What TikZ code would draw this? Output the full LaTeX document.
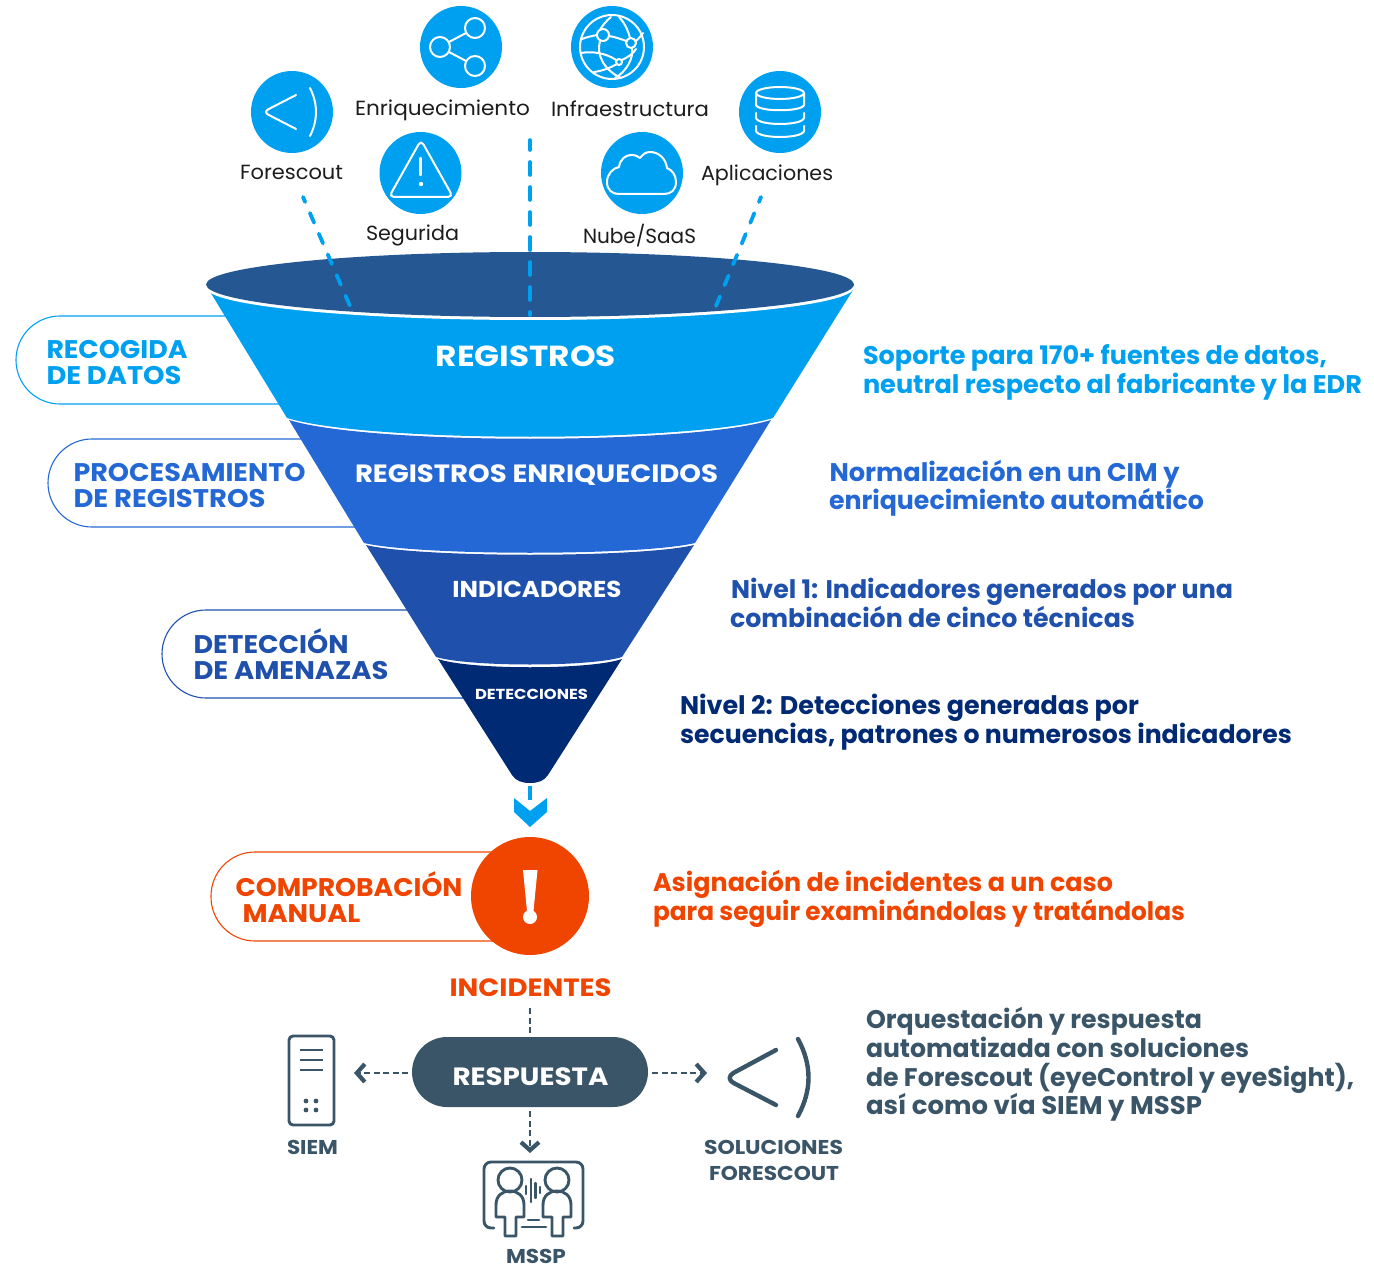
\documentclass[tikz,border=0pt]{standalone}
\usepackage{graphicx}
\usepackage{fontspec}
\setmainfont{Poppins}
\usetikzlibrary{arrows.meta}
\definecolor{cA}{HTML}{00A0F0}
\definecolor{cB}{HTML}{2468D5}
\definecolor{cC}{HTML}{1E50AC}
\definecolor{cD}{HTML}{012A74}
\definecolor{cE}{HTML}{F04500}
\definecolor{cG}{HTML}{3B5568}
\definecolor{cT}{HTML}{255892}
\definecolor{cL}{HTML}{1C1C1C}
\newcommand\fitw[2]{\resizebox{#1pt}{\height}{#2}}
\tikzset{
  x=1pt,y=-1pt,
  txt/.style={anchor=base west,inner sep=0pt,outer sep=0pt},
  cen/.style={anchor=base,inner sep=0pt,outer sep=0pt},
  big/.style={font=\fontsize{25.5}{30}\selectfont\bfseries},
  lab/.style={font=\fontsize{20.5}{24}\selectfont,text=cL},
  sml/.style={font=\fontsize{20}{24}\selectfont\bfseries,text=cG},
  pill/.style={line width=1.1pt,rounded corners=44pt},
  iconc/.style={circle,fill=cA,minimum size=82pt,inner sep=0pt},
  ico/.style={draw=white,line width=2pt,line cap=round,line join=round},
  dashA/.style={draw=cA,line width=3.8pt,line cap=round,dash pattern=on 10.5pt off 12pt,dash phase=5pt},
  dashB/.style={draw=cA,line width=3.6pt,line cap=round,dash pattern=on 13pt off 12pt,dash phase=3pt},
  respline/.style={draw=cG,line width=2pt,dash pattern=on 6pt off 3.5pt},
  resparrow/.style={respline,-{Straight Barb[length=8pt,width=18pt,line width=4.2pt]}},
  gic/.style={draw=cG,line width=2.9pt,line cap=round,line join=round},
}
\begin{document}
\begin{tikzpicture}
\useasboundingbox (0,0) rectangle (1374,1265);
% pills
\draw[pill,draw=cA] (240,316) -- (16,316) -- (16,404) -- (290,404);
\draw[pill,draw=cB] (310,439) -- (48,439) -- (48,527) -- (365,527);
\draw[pill,draw=cC] (415,610) -- (162,610) -- (162,698) -- (472,698);
\draw[pill,draw=cE] (500,852) -- (211,852) -- (211,941) -- (500,941);
% funnel
\fill[cA] (206,284) -- (209,290) -- (287,418) .. controls (370,443) and (690,443) .. (773,418) -- (853,290) -- (854,284) -- cycle;
\fill[white] (530,287.5) ellipse [x radius=324, y radius=32.5];
\fill[cT] (530,284.5) ellipse [x radius=324, y radius=32.5];
\fill[cB] (289,420) .. controls (370,445) and (690,445) .. (771,420) -- (695,543) .. controls (640,556) and (420,556) .. (364,543) -- cycle;
\fill[cC] (366,545) .. controls (420,558) and (640,558) .. (694,545) -- (622,657) .. controls (590,667) and (470,667) .. (436,657) -- cycle;
\fill[cD] (438,659) .. controls (470,670) and (590,670) .. (622,659) -- (548,775) .. controls (544,781) and (538,783) .. (530,783) .. controls (522,783) and (516,781) .. (512,775) -- cycle;
% icons
\node[iconc] (iFor) at (292,112) {};
\node[iconc] (iEnr) at (461,47) {};
\node[iconc] (iInf) at (612,47) {};
\node[iconc] (iSeg) at (420.5,173) {};
\node[iconc] (iNub) at (642,173) {};
\node[iconc] (iApl) at (780,112) {};
% forescout small
\draw[ico,rounded corners=6pt] (296,95) -- (263,112) -- (296,129);
\draw[ico] (310,88) .. controls (318,104) and (318,120) .. (310,136);
% share
\draw[ico] (475,28) circle [radius=10];
\draw[ico] (440,47) circle [radius=10];
\draw[ico] (475,66) circle [radius=10];
\draw[ico] (449,42) -- (466,33);
\draw[ico] (449,52) -- (466,61);
% globe
\draw[ico] (612,47) circle [radius=32];
\draw[ico] (603,35) circle [radius=6];
\draw[ico] (631,43) circle [radius=5];
\draw[ico] (619,62) circle [radius=3];
\draw[ico] (611,17) .. controls (606,21) and (602,26) .. (600,30);
\draw[ico] (600,41) .. controls (596,55) and (604,70) .. (621,78);
\draw[ico] (619,17) .. controls (624,22) and (628,30) .. (630,38);
\draw[ico] (632,48) .. controls (634,58) and (626,72) .. (615,78);
\draw[ico] (582,39) .. controls (587,37) and (592,36) .. (597,35);
\draw[ico] (609,36) .. controls (615,37) and (621,39) .. (626,41);
\draw[ico] (636,41) .. controls (639,38) and (641,36) .. (643,33);
\draw[ico] (581,53) .. controls (592,51) and (606,53) .. (616,60);
\draw[ico] (622,60) .. controls (628,57) and (633,54) .. (636,49);
\draw[ico] (594,72) .. controls (602,71) and (610,68) .. (617,64);
% warning
\draw[ico,rounded corners=5pt] (421,140) -- (389,197) -- (453,197) -- cycle;
\draw[ico,line width=2.4pt] (420.5,158) -- (420.5,175);
\fill[white] (421,184) circle [radius=2.2];
% cloud
\draw[ico] (619,194) .. controls (612,194) and (607,190) .. (607,182) .. controls (607,174) and (613,168) .. (619,167) .. controls (620,159) and (626,155) .. (631,155) .. controls (635,155) and (638,156) .. (640,158) .. controls (643,154) and (646,152) .. (650,152) .. controls (659,152) and (666,159) .. (667,168) .. controls (672,170) and (676,175) .. (676,182) .. controls (676,190) and (671,194) .. (664,194) -- cycle;
% database
\draw[ico] (780,93) ellipse [x radius=24, y radius=6];
\draw[ico] (756,93) -- (756,105) .. controls (758,112) and (802,112) .. (804,105) -- (804,93);
\draw[ico] (756,113) -- (756,118) .. controls (758,126) and (802,126) .. (804,118) -- (804,113);
\draw[ico] (756,126) -- (756,131) .. controls (758,139) and (802,139) .. (804,131) -- (804,126);
% icon labels
\node[txt,lab] (tFor) at (240,180) {\fitw{103}{Forescout}};
\node[txt,lab] (tEnr) at (355,116) {\fitw{175}{Enriquecimiento}};
\node[txt,lab] (tInf) at (551,117) {\fitw{158}{Infraestructura}};
\node[txt,lab] (tSeg) at (366,241) {\fitw{93}{Segurida}};
\node[txt,lab] (tNub) at (583,244) {\fitw{113}{Nube/SaaS}};
\node[txt,lab] (tApl) at (701,181) {\fitw{132}{Aplicaciones}};
% feed connectors
\coordinate (fL1) at (303,197); \coordinate (fL2) at (350,306);
\coordinate (fM1) at (530,140); \coordinate (fM2) at (530,315);
\coordinate (fR1) at (761,197); \coordinate (fR2) at (716,306);
\draw[dashA] (fL1) -- (fL2);
\draw[dashB] (fM1) -- (fM2);
\draw[dashA] (fR1) -- (fR2);
% funnel labels
\node[cen,text=white,font=\fontsize{29}{32}\selectfont\bfseries] (lay1) at (526,367) {\fitw{180}{REGISTROS}};
\node[cen,text=white,font=\fontsize{25}{30}\selectfont\bfseries] (lay2) at (536.5,482) {\fitw{363}{REGISTROS ENRIQUECIDOS}};
\node[cen,text=white,font=\fontsize{23}{28}\selectfont\bfseries] (lay3) at (537,597) {\fitw{169}{INDICADORES}};
\node[cen,text=white,font=\fontsize{14.5}{18}\selectfont\bfseries] (lay4) at (531.5,699) {\fitw{113}{DETECCIONES}};
% left labels
\node[txt,big,text=cA] (lA1) at (46.5,358.5) {\fitw{141}{RECOGIDA}};
\node[txt,big,text=cA] (lA2) at (46.5,384.5) {\fitw{135}{DE DATOS}};
\node[txt,big,text=cB] (lB1) at (73.5,481) {\fitw{232}{PROCESAMIENTO}};
\node[txt,big,text=cB] (lB2) at (73.5,507) {\fitw{192}{DE REGISTROS}};
\node[txt,big,text=cC] (lC1) at (193.5,653) {\fitw{155}{DETECCIÓN}};
\node[txt,big,text=cC] (lC2) at (193.5,679) {\fitw{195}{DE AMENAZAS}};
\node[txt,big,text=cE] (lE1) at (235.5,896) {\fitw{227}{COMPROBACIÓN}};
\node[txt,big,text=cE] (lE2) at (242.5,922) {\fitw{118}{MANUAL}};
% right labels
\node[txt,big,text=cA] (rA1) at (863,364) {\fitw{464}{Soporte para 170+ fuentes de datos,}};
\node[txt,big,text=cA] (rA2) at (863,393) {\fitw{499}{neutral respecto al fabricante y la EDR}};
\node[txt,big,text=cB] (rB1) at (829.5,481) {\fitw{350}{Normalización en un CIM y}};
\node[txt,big,text=cB] (rB2) at (829,509) {\fitw{375}{enriquecimiento automático}};
\node[txt,big,text=cC] (rC1) at (731,598) {\fitw{502}{Nivel 1: Indicadores generados por una}};
\node[txt,big,text=cC] (rC2) at (730,627) {\fitw{405}{combinación de cinco técnicas}};
\node[txt,big,text=cD] (rD1) at (680,714) {\fitw{459}{Nivel 2: Detecciones generadas por}};
\node[txt,big,text=cD] (rD2) at (680,743) {\fitw{612}{secuencias, patrones o numerosos indicadores}};
\node[txt,big,text=cE] (rE1) at (653,891) {\fitw{460}{Asignación de incidentes a un caso}};
\node[txt,big,text=cE] (rE2) at (653,920) {\fitw{532}{para seguir examinándolas y tratándolas}};
\node[txt,big,text=cG] (rG1) at (866,1028) {\fitw{336}{Orquestación y respuesta}};
\node[txt,big,text=cG] (rG2) at (866,1057) {\fitw{383}{automatizada con soluciones}};
\node[txt,big,text=cG] (rG3) at (866,1086) {\fitw{488}{de Forescout (eyeControl y eyeSight),}};
\node[txt,big,text=cG] (rG4) at (866,1114) {\fitw{336}{así como vía SIEM y MSSP}};
% funnel to alert
\coordinate (tip) at (530,786); \coordinate (chev) at (530,800);
\draw[draw=cA,line width=3.6pt] (tip) -- (chev);
\fill[cA] (514,798) -- (514,812) -- (530,827) -- (547,812) -- (547,798) -- (530,811) -- cycle;
\node[circle,fill=cE,minimum size=118pt,inner sep=0pt] (alert) at (530,896) {};
\fill[white] (523,870) -- (537.5,870) -- (533.5,911) -- (527,911) -- cycle;
\fill[white] (530,917) circle [radius=7];
\node[cen,text=cE,font=\fontsize{25}{30}\selectfont\bfseries] (inc) at (530.5,996) {\fitw{162}{INCIDENTES}};
% response
\node[rounded corners=35pt,fill=cG,minimum width=236pt,minimum height=70pt,inner sep=0pt,outer sep=4pt] (resp) at (530,1072) {};
\node[cen,text=white,font=\fontsize{25}{30}\selectfont\bfseries] (respt) at (530.5,1085) {\fitw{156}{RESPUESTA}};
\coordinate (incfoot) at (530,1008);
\coordinate (siemtip) at (354,1073);
\coordinate (fortip) at (707,1073);
\coordinate (mssptip) at (530,1153);
\draw[respline] (incfoot) -- (resp.north);
\draw[resparrow] (resp.west |- siemtip) -- (siemtip);
\draw[resparrow] (resp.east |- fortip) -- (fortip);
\draw[resparrow] (resp.south) -- (mssptip);
% SIEM icon
\draw[gic,rounded corners=4pt] (289,1036) rectangle (334,1125);
\draw[gic,line cap=butt] (300,1050) -- (323,1050) (300,1060) -- (323,1060) (300,1070) -- (323,1070);
\fill[cG] (306,1101) circle [radius=2.4] (316,1101) circle [radius=2.4] (306,1110) circle [radius=2.4] (316,1110) circle [radius=2.4];
\node[cen,sml] (tSiem) at (312.5,1154) {\fitw{51}{SIEM}};
% Forescout big
\draw[gic,line width=4.4pt,rounded corners=11pt] (776,1050) -- (724,1078) -- (776,1105);
\draw[gic,line width=4.4pt] (798,1039) .. controls (812,1065) and (812,1090) .. (798,1116);
\node[cen,sml] (tSol) at (773.5,1154) {\fitw{139}{SOLUCIONES}};
\node[cen,sml] (tFor2) at (774,1180) {\fitw{130}{FORESCOUT}};
% MSSP icon
\draw[gic,rounded corners=7pt] (494,1228) -- (484,1228) -- (484,1162) -- (583,1162) -- (583,1228) -- (574,1228);
\draw[gic] (510,1180) circle [radius=12];
\draw[gic] (557,1180) circle [radius=12];
\draw[gic] (505,1236) -- (505,1217) -- (496,1217) -- (496,1205) .. controls (496,1196) and (502,1191) .. (510,1191) .. controls (518,1191) and (524,1196) .. (524,1205) -- (524,1217) -- (516,1217) -- (516,1236) -- cycle;
\draw[gic] (552,1236) -- (552,1217) -- (543,1217) -- (543,1205) .. controls (543,1196) and (549,1191) .. (557,1191) .. controls (565,1191) and (571,1196) .. (571,1205) -- (571,1217) -- (563,1217) -- (563,1236) -- cycle;
\draw[gic,line width=2.2pt] (526,1186) -- (526,1194) (531,1179) -- (531,1202) (535.5,1183) -- (535.5,1198) (540,1187) -- (540,1193);
\draw[gic] (528,1220) -- (539,1220) (522,1227) -- (546,1227);
\node[cen,sml] (tMs) at (536,1263) {\fitw{60}{MSSP}};
\end{tikzpicture}
\end{document}
